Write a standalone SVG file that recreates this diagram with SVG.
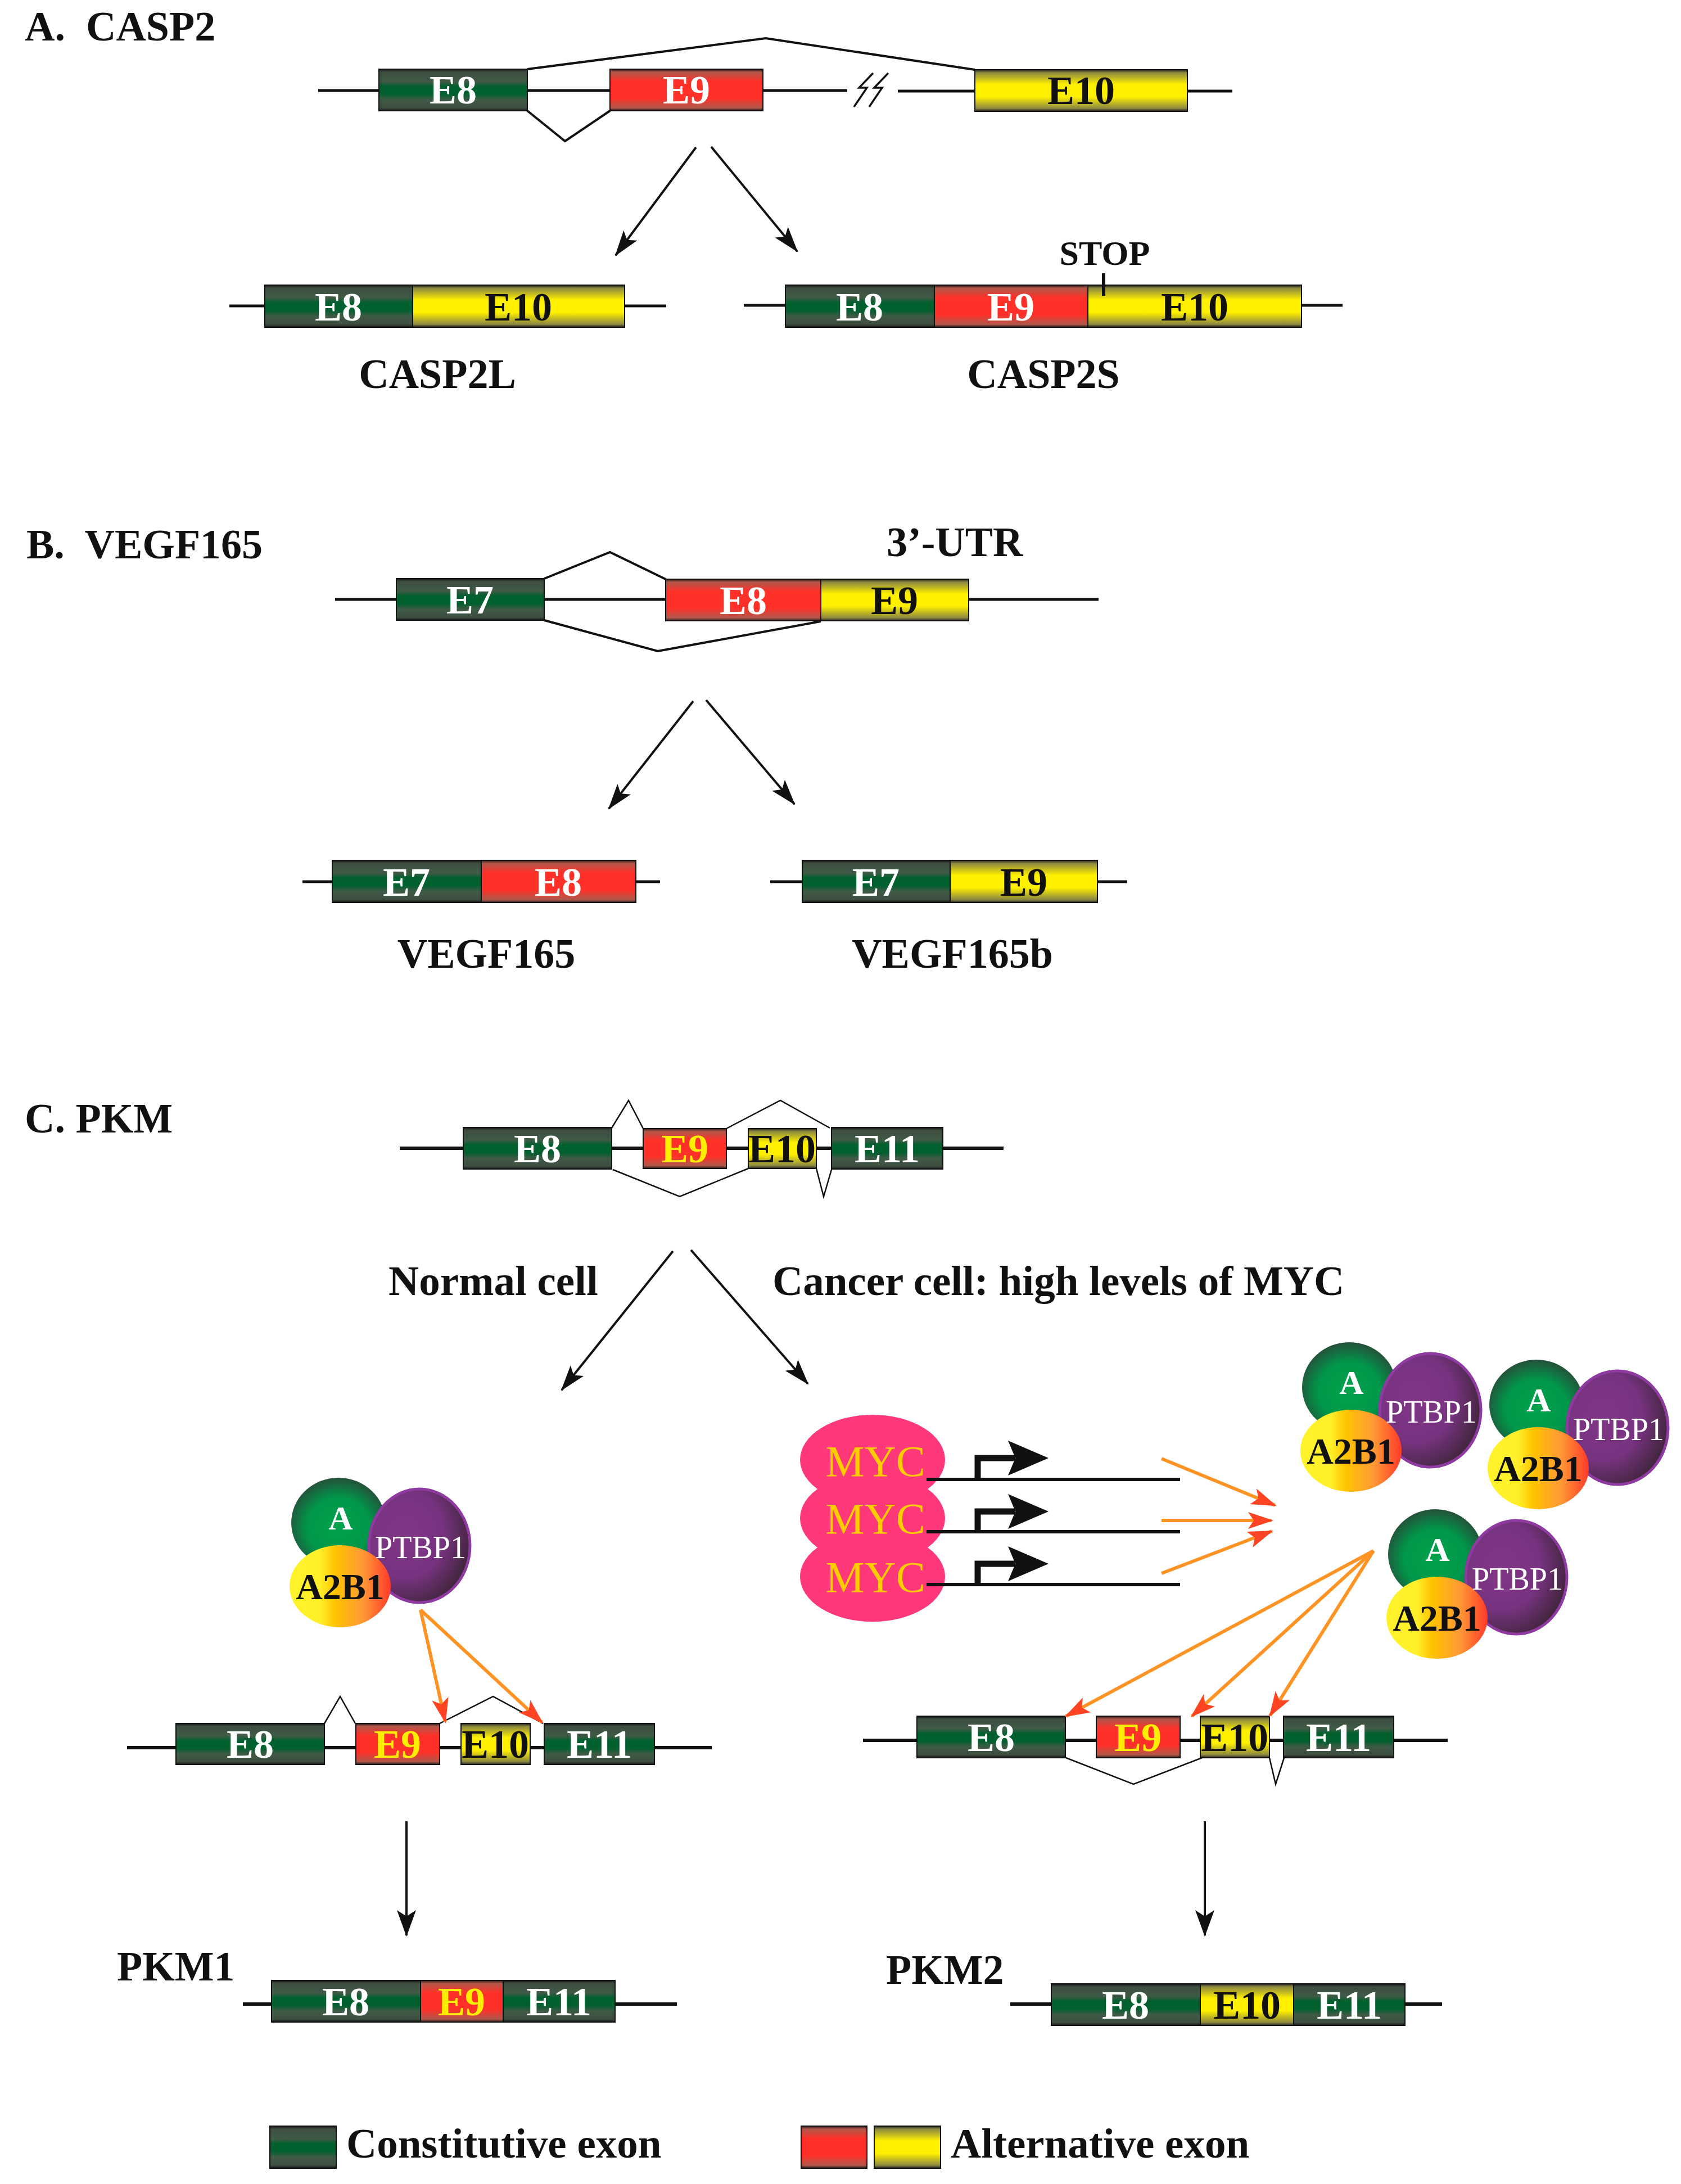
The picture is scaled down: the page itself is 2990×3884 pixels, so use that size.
<svg xmlns="http://www.w3.org/2000/svg" width="2990" height="3884" viewBox="0 0 2990 3884">
<style>
text{font-family:"Liberation Serif","Times New Roman",serif;}
.b{font-weight:bold;}
.ti{font-size:74px;font-weight:bold;fill:#111;}
.ex{font-size:72px;font-weight:bold;text-anchor:middle;}
.w{fill:#fff;}.k{fill:#111;}.y{fill:#ffee00;}
.mid{text-anchor:middle;}
.gl{stroke:#111;stroke-width:5;fill:none;}
.gl6{stroke:#111;stroke-width:6;fill:none;}
.sp{stroke:#111;stroke-width:4;fill:none;stroke-linejoin:miter;}
.spt{stroke:#111;stroke-width:2.5;fill:none;}
.exg{fill:url(#gG);stroke:#111;stroke-width:2;}
.exr{fill:url(#gR);stroke:#111;stroke-width:2;}
.exy{fill:url(#gY);stroke:#111;stroke-width:2;}
.arr{stroke:#111;stroke-width:4;fill:none;marker-end:url(#mk);}
.arrd{stroke:#111;stroke-width:4;fill:none;marker-end:url(#mkd);}
.oar{stroke:#ff9424;stroke-width:6;fill:none;marker-end:url(#mo);}
.myc{fill:#ff387a;}
.myct{font-size:78px;fill:#ffcc00;text-anchor:middle;}
.pg{fill:url(#rG);}
.pp{fill:url(#rP);stroke:#8e3aa0;stroke-width:5;}
.py{fill:url(#lY);}
.pa{font-size:60px;font-weight:bold;fill:#fff;text-anchor:middle;}
.pt{font-size:56px;fill:#fff;text-anchor:middle;}
.pb{font-size:66px;font-weight:bold;fill:#111;text-anchor:middle;}
</style>
<defs>
<linearGradient id="gG" x1="0" y1="0" x2="0" y2="1">
<stop offset="0" stop-color="#151515"/><stop offset="0.07" stop-color="#3e4e40"/><stop offset="0.3" stop-color="#3f5a45"/><stop offset="0.42" stop-color="#00602e"/><stop offset="0.6" stop-color="#00602e"/><stop offset="0.74" stop-color="#3f5a45"/><stop offset="0.93" stop-color="#3e4e40"/><stop offset="1" stop-color="#151515"/>
</linearGradient>
<linearGradient id="gR" x1="0" y1="0" x2="0" y2="1">
<stop offset="0" stop-color="#2a1a1a"/><stop offset="0.07" stop-color="#b0584a"/><stop offset="0.3" stop-color="#ff3028"/><stop offset="0.7" stop-color="#ff3028"/><stop offset="0.93" stop-color="#b0584a"/><stop offset="1" stop-color="#2a1a1a"/>
</linearGradient>
<linearGradient id="gY" x1="0" y1="0" x2="0" y2="1">
<stop offset="0" stop-color="#222"/><stop offset="0.07" stop-color="#8c8840"/><stop offset="0.35" stop-color="#fff000"/><stop offset="0.65" stop-color="#fff000"/><stop offset="0.93" stop-color="#8c8840"/><stop offset="1" stop-color="#222"/>
</linearGradient>
<radialGradient id="rG" cx="0.5" cy="0.55" r="0.55">
<stop offset="0" stop-color="#00a24c"/><stop offset="0.6" stop-color="#00974a"/><stop offset="1" stop-color="#25503a"/>
</radialGradient>
<radialGradient id="rP" cx="0.35" cy="0.4" r="0.7">
<stop offset="0" stop-color="#803686"/><stop offset="0.55" stop-color="#773380"/><stop offset="1" stop-color="#3c2436"/>
</radialGradient>
<linearGradient id="lY" x1="0" y1="0" x2="1" y2="0">
<stop offset="0" stop-color="#fff22a"/><stop offset="0.3" stop-color="#fff02a"/><stop offset="0.45" stop-color="#ffc300"/><stop offset="0.72" stop-color="#ff9a35"/><stop offset="1" stop-color="#ff3a2a"/>
</linearGradient>
<marker id="mk" markerUnits="userSpaceOnUse" orient="auto" viewBox="-50 -20 55 40" refX="0" refY="0" markerWidth="55" markerHeight="40">
<path d="M2,0 L-44,-15 L-34,0 L-44,15 Z" fill="#111"/>
</marker>
<marker id="mkd" markerUnits="userSpaceOnUse" orient="auto" viewBox="-50 -20 55 40" refX="0" refY="0" markerWidth="55" markerHeight="40">
<path d="M2,0 L-45,-17 L-34,0 L-45,17 Z" fill="#111"/>
</marker>
<marker id="mo" markerUnits="userSpaceOnUse" orient="auto" viewBox="-50 -20 55 40" refX="0" refY="0" markerWidth="55" markerHeight="40">
<path d="M3,0 L-42,-15 L-32,0 L-42,15 Z" fill="#ff4424"/>
</marker>
</defs>
<rect width="2990" height="3884" fill="#fff"/>

<!-- Section A -->
<g id="sectionA">
<text class="ti" x="44" y="72">A.&#160; CASP2</text>
<g id="A-gene">
<line class="gl" x1="566" y1="161" x2="1507" y2="161"/>
<line class="gl" x1="1597" y1="162" x2="2192" y2="162"/>
<path d="M1553,130 L1528,156 L1542,156 L1519,190 M1580,130 L1555,156 L1569,156 L1546,190" stroke="#111" stroke-width="3.5" fill="none"/>
<polyline class="sp" points="938,123 1362,68 1734,124"/>
<polyline class="sp" points="938,197 1005,251 1085,197"/>
<rect class="exg" x="674" y="123" width="264" height="74"/>
<rect class="exr" x="1085" y="123" width="272" height="74"/>
<rect class="exy" x="1734" y="124" width="378" height="74"/>
<text class="ex w" x="806" y="184">E8</text>
<text class="ex w" x="1221" y="184">E9</text>
<text class="ex k" x="1923" y="185">E10</text>
</g>
<g id="A-CASP2L">
<line class="gl" x1="408" y1="544" x2="1185" y2="544"/>
<rect class="exg" x="471" y="507" width="263" height="75"/>
<rect class="exy" x="734" y="507" width="377" height="75"/>
<text class="ex w" x="602" y="570">E8</text>
<text class="ex k" x="922" y="570">E10</text>
<text class="ti mid" x="778" y="690">CASP2L</text>
</g>
<g id="A-CASP2S">
<line class="gl" x1="1323" y1="543" x2="2388" y2="543"/>
<rect class="exg" x="1397" y="507" width="265" height="75"/>
<rect class="exr" x="1662" y="507" width="273" height="75"/>
<rect class="exy" x="1935" y="507" width="380" height="75"/>
<text class="ex w" x="1529" y="570">E8</text>
<text class="ex w" x="1798" y="570">E9</text>
<text class="ex k" x="2125" y="570">E10</text>
<line x1="1963" y1="486" x2="1963" y2="526" stroke="#111" stroke-width="6"/>
<text class="b mid" x="1965" y="471" style="font-size:62px;fill:#111">STOP</text>
<text class="ti mid" x="1856" y="690">CASP2S</text>
</g>
</g>

<!-- Section B -->
<g id="sectionB">
<text class="ti" x="47" y="993">B.&#160; VEGF165</text>
<text class="ti" x="1577" y="989">3’-UTR</text>
<g id="B-gene">
<line class="gl" x1="596" y1="1066" x2="1954" y2="1066"/>
<polyline class="sp" points="968,1029 1085,982 1184,1030"/>
<polyline class="sp" points="968,1103 1170,1158 1460,1105"/>
<rect class="exg" x="705" y="1029" width="263" height="74"/>
<rect class="exr" x="1184" y="1030" width="276" height="74"/>
<rect class="exy" x="1460" y="1030" width="263" height="74"/>
<text class="ex w" x="836" y="1091">E7</text>
<text class="ex w" x="1322" y="1092">E8</text>
<text class="ex k" x="1591" y="1092">E9</text>
</g>
<g id="B-VEGF165">
<line class="gl" x1="538" y1="1568" x2="1174" y2="1568"/>
<rect class="exg" x="591" y="1530" width="265" height="75"/>
<rect class="exr" x="856" y="1530" width="275" height="75"/>
<text class="ex w" x="723" y="1593">E7</text>
<text class="ex w" x="993" y="1593">E8</text>
<text class="ti mid" x="865" y="1721">VEGF165</text>
</g>
<g id="B-VEGF165b">
<line class="gl" x1="1370" y1="1568" x2="2005" y2="1568"/>
<rect class="exg" x="1427" y="1530" width="263" height="75"/>
<rect class="exy" x="1690" y="1530" width="262" height="75"/>
<text class="ex w" x="1558" y="1593">E7</text>
<text class="ex k" x="1821" y="1593">E9</text>
<text class="ti mid" x="1694" y="1721">VEGF165b</text>
</g>
</g>

<!-- Section C -->
<g id="sectionC">
<text class="ti" x="44" y="2014">C. PKM</text>
<g id="C-gene">
<line class="gl6" x1="711" y1="2042" x2="1785" y2="2042"/>
<polyline class="spt" points="1088,2006 1118,1957 1144,2007"/>
<polyline class="spt" points="1292,2007 1388,1957 1476,2006"/>
<polyline class="spt" points="1090,2080 1209,2128 1331,2078"/>
<polyline class="spt" points="1452,2078 1465,2128 1479,2080"/>
<rect class="exg" x="824" y="2005" width="264" height="74"/>
<rect class="exr" x="1144" y="2007" width="148" height="71"/>
<rect class="exy" x="1331" y="2007" width="121" height="71"/>
<rect class="exg" x="1479" y="2005" width="198" height="74"/>
<text class="ex w" x="956" y="2067">E8</text>
<text class="ex y" x="1218" y="2067">E9</text>
<text class="ex k" x="1391" y="2067">E10</text>
<text class="ex w" x="1578" y="2067">E11</text>
</g>
<text class="ti" x="691" y="2303" style="font-size:75px">Normal cell</text>
<text class="ti" x="1374" y="2303" style="font-size:75px">Cancer cell: high levels of MYC</text>

<g id="MYC">
<ellipse class="myc" cx="1552" cy="2804" rx="129" ry="80"/>
<ellipse class="myc" cx="1552" cy="2700" rx="129" ry="80"/>
<ellipse class="myc" cx="1552" cy="2596" rx="129" ry="80"/>
<text class="myct" x="1557" y="2625">MYC</text>
<text class="myct" x="1557" y="2727">MYC</text>
<text class="myct" x="1557" y="2831">MYC</text>
</g>
<g id="promoters">
<line class="gl6" x1="1648" y1="2631" x2="2099" y2="2631"/>
<line class="gl6" x1="1648" y1="2724" x2="2099" y2="2724"/>
<line class="gl6" x1="1648" y1="2818" x2="2099" y2="2818"/>
<path d="M1739,2631 V2593 H1805 M1739,2724 V2688 H1805 M1739,2818 V2781 H1805" stroke="#111" stroke-width="11" fill="none"/>
<path d="M1793,2562 L1865,2593 L1793,2624 L1806,2593 Z M1793,2657 L1865,2688 L1793,2719 L1806,2688 Z M1793,2750 L1865,2781 L1793,2812 L1806,2781 Z" fill="#111"/>
</g>

<g id="complexL">
<ellipse class="pg" cx="602" cy="2708" rx="84" ry="80"/>
<ellipse class="pp" cx="746" cy="2749" rx="90" ry="101"/>
<ellipse class="py" cx="605" cy="2821" rx="90" ry="73"/>
<text class="pa" x="606" y="2720">A</text>
<text class="pt" x="748" y="2771">PTBP1</text>
<text class="pb" x="605" y="2844">A2B1</text>
</g>
<g id="complex1">
<ellipse class="pg" cx="2400" cy="2467" rx="84" ry="80"/>
<ellipse class="pp" cx="2544" cy="2508" rx="90" ry="101"/>
<ellipse class="py" cx="2403" cy="2580" rx="90" ry="73"/>
<text class="pa" x="2404" y="2479">A</text>
<text class="pt" x="2546" y="2530">PTBP1</text>
<text class="pb" x="2403" y="2603">A2B1</text>
</g>
<g id="complex2">
<ellipse class="pg" cx="2733" cy="2498" rx="84" ry="80"/>
<ellipse class="pp" cx="2877" cy="2539" rx="90" ry="101"/>
<ellipse class="py" cx="2736" cy="2611" rx="90" ry="73"/>
<text class="pa" x="2737" y="2510">A</text>
<text class="pt" x="2879" y="2561">PTBP1</text>
<text class="pb" x="2736" y="2634">A2B1</text>
</g>
<g id="complex3">
<ellipse class="pg" cx="2553" cy="2764" rx="84" ry="80"/>
<ellipse class="pp" cx="2697" cy="2805" rx="90" ry="101"/>
<ellipse class="py" cx="2556" cy="2877" rx="90" ry="73"/>
<text class="pa" x="2557" y="2776">A</text>
<text class="pt" x="2699" y="2827">PTBP1</text>
<text class="pb" x="2556" y="2900">A2B1</text>
</g>

<g id="C-normal-gene">
<line class="gl6" x1="226" y1="3108" x2="1266" y2="3108"/>
<polyline class="spt" points="577,3065 605,3017 632,3065"/>
<polyline class="spt" points="782,3065 877,3017 966,3065"/>
<rect class="exg" x="313" y="3065" width="264" height="73"/>
<rect class="exr" x="633" y="3065" width="149" height="73"/>
<rect class="exy" x="820" y="3065" width="123" height="73"/>
<rect class="exg" x="968" y="3065" width="196" height="73"/>
<text class="ex w" x="445" y="3126">E8</text>
<text class="ex y" x="707" y="3126">E9</text>
<text class="ex k" x="881" y="3126">E10</text>
<text class="ex w" x="1066" y="3126">E11</text>
</g>
<g id="C-cancer-gene">
<line class="gl6" x1="1535" y1="3095" x2="2575" y2="3095"/>
<polyline class="spt" points="1896,3126 2016,3173 2138,3126"/>
<polyline class="spt" points="2258,3126 2269,3173 2284,3126"/>
<rect class="exg" x="1631" y="3052" width="264" height="74"/>
<rect class="exr" x="1950" y="3052" width="149" height="74"/>
<rect class="exy" x="2135" y="3052" width="123" height="74"/>
<rect class="exg" x="2283" y="3052" width="196" height="74"/>
<text class="ex w" x="1763" y="3114">E8</text>
<text class="ex y" x="2024" y="3114">E9</text>
<text class="ex k" x="2196" y="3114">E10</text>
<text class="ex w" x="2381" y="3114">E11</text>
</g>

<g id="PKM1">
<text class="ti" x="208" y="3522">PKM1</text>
<line class="gl6" x1="432" y1="3564" x2="1204" y2="3564"/>
<rect class="exg" x="483" y="3522" width="265" height="74"/>
<rect class="exr" x="748" y="3522" width="147" height="74"/>
<rect class="exg" x="895" y="3522" width="199" height="74"/>
<text class="ex w" x="615" y="3584">E8</text>
<text class="ex y" x="821" y="3584">E9</text>
<text class="ex w" x="994" y="3584">E11</text>
</g>
<g id="PKM2">
<text class="ti" x="1576" y="3528">PKM2</text>
<line class="gl6" x1="1797" y1="3564" x2="2565" y2="3564"/>
<rect class="exg" x="1870" y="3528" width="265" height="74"/>
<rect class="exy" x="2135" y="3528" width="166" height="74"/>
<rect class="exg" x="2301" y="3528" width="198" height="74"/>
<text class="ex w" x="2002" y="3590">E8</text>
<text class="ex k" x="2218" y="3590">E10</text>
<text class="ex w" x="2400" y="3590">E11</text>
</g>
</g>

<g id="legend">
<rect class="exg" x="480" y="3781" width="118" height="75"/>
<text class="ti" x="616" y="3837" style="font-size:75px">Constitutive exon</text>
<rect class="exr" x="1425" y="3781" width="117" height="75"/>
<rect class="exy" x="1555" y="3781" width="118" height="75"/>
<text class="ti" x="1691" y="3837" style="font-size:75px">Alternative exon</text>
</g>

<g id="connectors">
<line class="arr" x1="1238" y1="262" x2="1095" y2="454"/>
<line class="arr" x1="1265" y1="261" x2="1418" y2="447"/>
<line class="arr" x1="1233" y1="1247" x2="1083" y2="1438"/>
<line class="arr" x1="1256" y1="1245" x2="1413" y2="1430"/>
<line class="arr" x1="1197" y1="2225" x2="999" y2="2472"/>
<line class="arr" x1="1229" y1="2223" x2="1437" y2="2461"/>
<line class="arrd" x1="723" y1="3239" x2="723" y2="3442"/>
<line class="arrd" x1="2143" y1="3239" x2="2143" y2="3442"/>
<line class="oar" x1="2066" y1="2594" x2="2268" y2="2677"/>
<line class="oar" x1="2066" y1="2704" x2="2262" y2="2704"/>
<line class="oar" x1="2066" y1="2798" x2="2262" y2="2723"/>
<line class="oar" x1="748" y1="2863" x2="792" y2="3062"/>
<line class="oar" x1="748" y1="2863" x2="964" y2="3063"/>
<line class="oar" x1="2443" y1="2758" x2="1896" y2="3052"/>
<line class="oar" x1="2443" y1="2758" x2="2120" y2="3052"/>
<line class="oar" x1="2443" y1="2758" x2="2259" y2="3051"/>
</g>
</svg>
